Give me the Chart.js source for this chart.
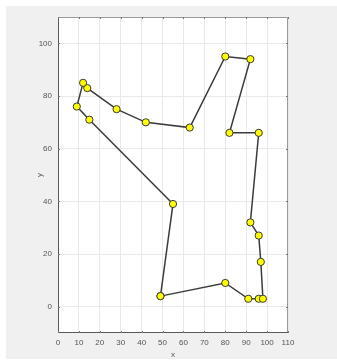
<!DOCTYPE html>
<html>
<head>
<meta charset="utf-8">
<script src="https://cdn.jsdelivr.net/npm/chart.js@4"></script>
<style>
  html, body { margin: 0; padding: 0; background: #fff; }
  #zona { position: relative; width: 337px; height: 360px; }
</style>
</head>
<body>
<div id="zona"><canvas id="grafica"></canvas></div>
<script>
// --- DATOS (recorrido cerrado) ---
const puntosX = [49, 80, 91, 96, 98, 97, 96, 92, 96, 82, 92, 80, 63, 42, 28, 14, 12, 9, 15, 55, 49];
const puntosY = [4, 9, 3, 3, 3, 17, 27, 32, 66, 66, 94, 95, 68, 70, 75, 83, 85, 76, 71, 39, 4];
const ticksX = [0, 10, 20, 30, 40, 50, 60, 70, 80, 90, 100, 110];
const ticksY = [0, 20, 40, 60, 80, 100];

const fuente = { family: '"Liberation Sans", Arial, sans-serif', size: 8 };
const colorTexto = '#555555';
const colorGrid = '#e9e9e9';

// Fondo gris tipo figura + caja del eje
const fondoFigura = {
    id: 'fondoFigura',
    beforeDraw(chart) {
        const ctx = chart.ctx;
        const a = chart.chartArea;
        ctx.save();
        ctx.fillStyle = '#ffffff';
        ctx.fillRect(0, 0, chart.width, chart.height);
        ctx.fillStyle = '#f0f0f0';
        ctx.fillRect(6, 6, chart.width - 6, chart.height - 7);
        ctx.fillStyle = '#ffffff';
        ctx.fillRect(a.left, a.top, a.right - a.left, a.bottom - a.top);
        ctx.restore();
    },
    beforeDatasetsDraw(chart) {
        const ctx = chart.ctx;
        const a = chart.chartArea;
        const sx = chart.scales.x, sy = chart.scales.y;
        ctx.save();
        ctx.lineWidth = 1;
        // arriba y derecha
        ctx.strokeStyle = '#9a9a9a';
        ctx.beginPath();
        ctx.moveTo(a.left, a.top + 0.5);
        ctx.lineTo(a.right - 0.5, a.top + 0.5);
        ctx.lineTo(a.right - 0.5, a.bottom);
        ctx.stroke();
        // izquierda y abajo
        ctx.strokeStyle = '#5a5a5a';
        ctx.beginPath();
        ctx.moveTo(a.left + 0.5, a.top);
        ctx.lineTo(a.left + 0.5, a.bottom - 0.5);
        ctx.lineTo(a.right, a.bottom - 0.5);
        ctx.stroke();
        // marcas hacia dentro
        ctx.strokeStyle = '#777777';
        ctx.beginPath();
        ticksX.forEach(v => {
            const px = Math.round(sx.getPixelForValue(v)) + 0.5;
            ctx.moveTo(px, a.bottom); ctx.lineTo(px, a.bottom - 2);
            ctx.moveTo(px, a.top); ctx.lineTo(px, a.top + 2);
        });
        ticksY.forEach(v => {
            const py = Math.round(sy.getPixelForValue(v)) + 0.5;
            ctx.moveTo(a.left, py); ctx.lineTo(a.left + 2, py);
            ctx.moveTo(a.right, py); ctx.lineTo(a.right - 2, py);
        });
        ctx.stroke();
        ctx.restore();
    }
};

const ctx = document.getElementById('grafica').getContext('2d');
const grafica = new Chart(ctx, {
    type: 'scatter',
    data: {
        datasets: [{
            label: 'ruta',
            data: puntosX.map((x, i) => ({ x: x, y: puntosY[i] })),
            showLine: true,
            borderColor: '#3c3c3c',
            borderWidth: 1.5,
            backgroundColor: '#ffff00',
            pointBackgroundColor: '#ffff00',
            pointBorderColor: '#3a3a3a',
            pointBorderWidth: 1,
            pointRadius: 3.6,
            tension: 0
        }]
    },
    options: {
        responsive: true,
        maintainAspectRatio: false,
        animation: false,
        layout: { padding: { top: 17, right: 49, left: 0, bottom: 0 } },
        plugins: { legend: { display: false }, tooltip: { enabled: false } },
        scales: {
            x: {
                type: 'linear',
                position: 'bottom',
                min: 0,
                max: 110,
                afterBuildTicks: s => { s.ticks = ticksX.map(v => ({ value: v })); },
                afterFit: s => { s.height = 27; },
                ticks: { font: fuente, color: colorTexto, padding: 5, maxRotation: 0 },
                grid: { color: colorGrid, drawTicks: false },
                border: { display: false },
                title: { display: true, text: 'x', font: fuente, color: colorTexto, padding: { top: 0, bottom: 0 } }
            },
            y: {
                type: 'linear',
                min: -10,
                max: 110,
                afterBuildTicks: s => { s.ticks = ticksY.map(v => ({ value: v })); },
                afterFit: s => { s.width = 58; },
                ticks: { font: fuente, color: colorTexto, padding: 6 },
                grid: { color: colorGrid, drawTicks: false },
                border: { display: false },
                title: { display: true, text: 'y', font: fuente, color: colorTexto, padding: { top: 35, bottom: 0 } }
            }
        }
    },
    plugins: [fondoFigura]
});
</script>
</body>
</html>
